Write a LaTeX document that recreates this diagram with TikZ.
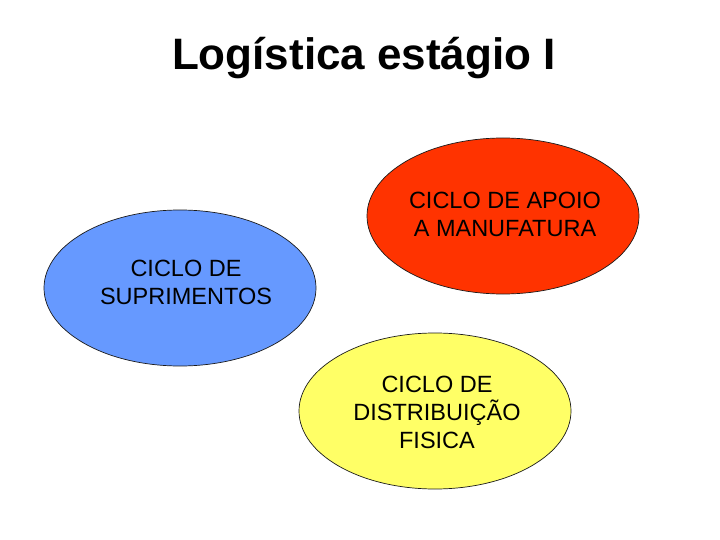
\documentclass[tikz,border=0pt]{standalone}
\usepackage{fontspec}
\setmainfont{Liberation Sans}
\usetikzlibrary{shapes.geometric}
\definecolor{cycred}{HTML}{FF3300}
\definecolor{cycblue}{HTML}{6699FF}
\definecolor{cycyellow}{HTML}{FFFF66}
\definecolor{cycink}{HTML}{1A1A1A}
\tikzset{
  cyc/.style={ellipse, draw=cycink, line width=0.7pt, minimum width=272pt, minimum height=156pt, inner sep=0pt},
  txt/.style={align=center, font=\fontsize{23.5}{28}\selectfont},
  ttl/.style={font=\bfseries\fontsize{44}{48}\selectfont},
}
\begin{document}
\begin{tikzpicture}[x=1pt, y=-1pt]
  \useasboundingbox (0,0) rectangle (720,540);
  \node[ttl] (title) at (364,58) {Logística estágio I};
  \node[cyc, fill=cycred] (apoio) at (503,216) {};
  \node[cyc, fill=cycblue] (supr) at (180,288) {};
  \node[cyc, fill=cycyellow] (dist) at (435,411) {};
  \node[txt] (apoiot) at (505,214) {CICLO DE APOIO\\A MANUFATURA};
  \node[txt] (suprt) at (186,282) {CICLO DE\\SUPRIMENTOS};
  \node[txt] (distt) at (437,412) {CICLO DE\\DISTRIBUIÇÃO\\FISICA};
\end{tikzpicture}
\end{document}
